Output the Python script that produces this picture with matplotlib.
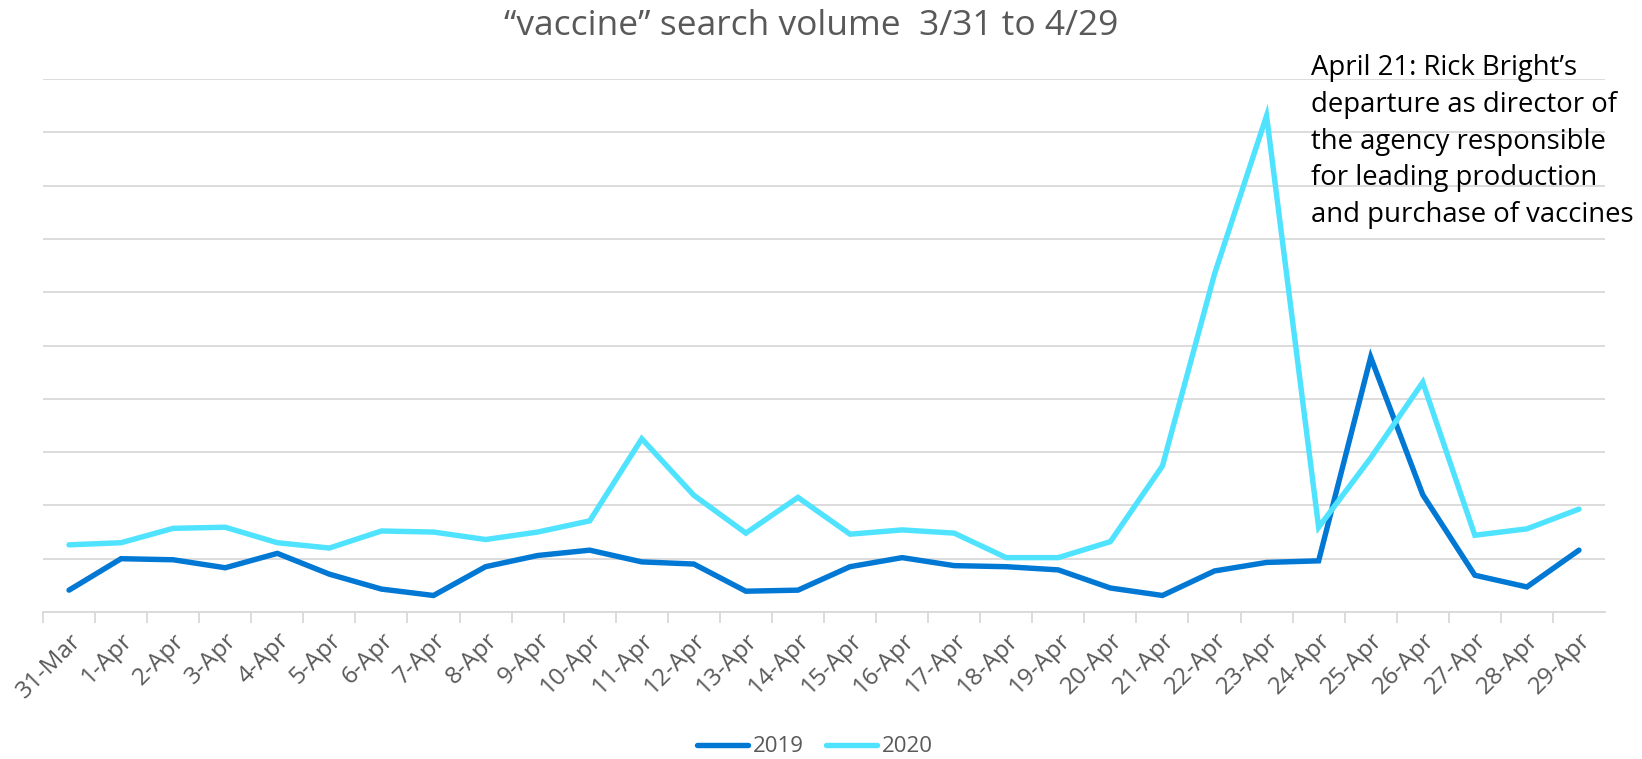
import matplotlib
matplotlib.use("Agg")
import matplotlib.pyplot as plt
import numpy as np

dates = ["31-Mar", "1-Apr", "2-Apr", "3-Apr", "4-Apr", "5-Apr", "6-Apr", "7-Apr", "8-Apr", "9-Apr",
         "10-Apr", "11-Apr", "12-Apr", "13-Apr", "14-Apr", "15-Apr", "16-Apr", "17-Apr", "18-Apr", "19-Apr",
         "20-Apr", "21-Apr", "22-Apr", "23-Apr", "24-Apr", "25-Apr", "26-Apr", "27-Apr", "28-Apr", "29-Apr"]
vol_2019 = [0.41, 1.0, 0.98, 0.83, 1.1, 0.71, 0.43, 0.31, 0.85, 1.06,
            1.16, 0.94, 0.9, 0.39, 0.41, 0.85, 1.02, 0.87, 0.85, 0.79,
            0.45, 0.31, 0.77, 0.93, 0.96, 4.78, 2.2, 0.69, 0.47, 1.16]
vol_2020 = [1.26, 1.3, 1.57, 1.59, 1.3, 1.2, 1.52, 1.5, 1.36, 1.5,
            1.71, 3.25, 2.19, 1.48, 2.15, 1.46, 1.54, 1.48, 1.02, 1.02,
            1.32, 2.74, 6.34, 9.31, 1.59, 2.89, 4.31, 1.44, 1.56, 1.93]

plt.rcParams['font.family'] = ['Open Sans', 'DejaVu Sans']

W, H = 1642, 759
fig = plt.figure(figsize=(W / 100, H / 100), dpi=100)
ax = fig.add_axes([43 / W, 1 - 612 / H, (1605 - 43) / W, (612 - 79) / H])

x = np.arange(len(dates))
ax.plot(x, vol_2019, color="#0078D4", lw=3.9, solid_capstyle="round", solid_joinstyle="miter", label="2019", zorder=3)
ax.plot(x, vol_2020, color="#4FE3FF", lw=3.9, solid_capstyle="round", solid_joinstyle="miter", label="2020", zorder=3)

ax.set_xlim(-0.5, len(dates) - 0.5)
ax.set_ylim(0, 10)
ax.set_yticks(np.arange(0, 11, 1))
ax.set_yticklabels([])
ax.tick_params(axis='y', length=0)
ax.grid(axis='y', color="#D9D9D9", lw=1.3, zorder=0)
for s in ["top", "right", "left"]:
    ax.spines[s].set_visible(False)
ax.spines["bottom"].set_color("#D9D9D9")
ax.spines["bottom"].set_linewidth(1.3)

ax.set_xticks(x - 0.5, minor=False)
ax.set_xticklabels([])
ax.set_xticks(x, minor=True)
ax.set_xticklabels(dates, minor=True, rotation=45, ha="right", va="top",
                   rotation_mode="anchor", fontsize=17.5, color="#595959")
ax.tick_params(axis='x', which='major', length=8, color="#D9D9D9", width=1.3)
ax.tick_params(axis='x', which='minor', length=0, pad=12)

fig.text(811 / W, 1 - 26 / H, "\u201cvaccine\u201d search volume  3/31 to 4/29", ha="center", va="center",
         fontsize=25.5, color="#595959")

fig.text(1311 / W, 1 - 54 / H,
         "April 21: Rick Bright\u2019s\ndeparture as director of\nthe agency responsible\nfor leading production\nand purchase of vaccines",
         ha="left", va="top", fontsize=19.8, color="#000000", linespacing=1.42)

leg = fig.legend(loc="center", bbox_to_anchor=(815 / W, 1 - 747 / H), ncol=2, frameon=False,
                 fontsize=16, handlelength=2.3, columnspacing=1.0, handletextpad=0.2,
                 borderaxespad=0, borderpad=0)
for t in leg.get_texts():
    t.set_color("#595959")

fig.savefig("out.png", dpi=100)
